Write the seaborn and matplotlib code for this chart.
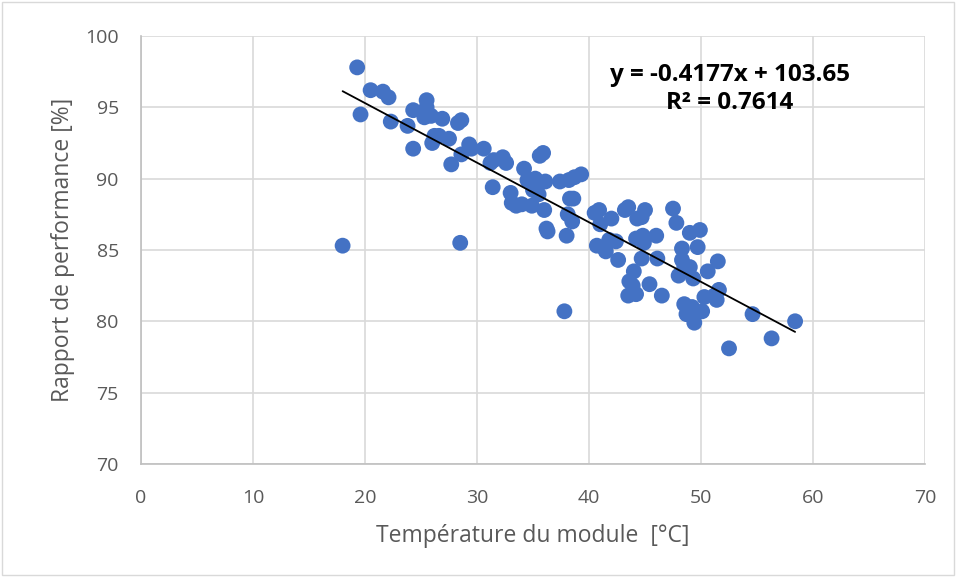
import matplotlib
matplotlib.use("Agg")
import matplotlib.pyplot as plt
import numpy as np
import pandas as pd
import seaborn as sns

# module temperature [°C] and performance ratio [%]
temperature = [
    19.3, 18.0, 19.6, 20.5, 21.6, 22.1, 22.3, 23.8, 24.3, 24.3,
    25.5, 25.5, 25.3, 25.9, 26.2, 26.0, 26.6, 26.9, 27.5, 27.7,
    28.3, 28.6, 28.6, 28.5, 29.3, 29.5, 30.6, 31.2, 31.4, 31.5,
    32.3, 32.6, 33.0, 33.1, 33.5, 34.0, 34.2, 34.5, 34.9, 35.0,
    35.2, 35.5, 35.6, 35.9, 36.0, 36.1, 36.2, 36.3, 37.4, 37.8,
    38.0, 38.1, 38.2, 38.3, 38.6, 38.5, 38.7, 39.3, 40.5, 40.7,
    40.9, 41.0, 41.4, 41.5, 41.8, 42.0, 42.4, 42.6, 43.2, 43.5,
    43.5, 43.6, 43.9, 44.0, 44.2, 44.2, 44.3, 44.7, 44.8, 44.9,
    44.7, 45.0, 45.4, 46.0, 46.1, 46.5, 47.5, 47.8, 48.0, 48.3,
    48.3, 48.5, 48.5, 48.7, 49.0, 49.0, 49.3, 49.2, 49.4, 49.4,
    49.7, 49.9, 50.1, 50.3, 50.6, 51.2, 51.4, 51.5, 51.6, 52.5,
    54.6, 56.3, 58.4,
]
performance = [
    97.8, 85.3, 94.5, 96.2, 96.1, 95.7, 94.0, 93.7, 94.8, 92.1,
    95.5, 95.0, 94.3, 94.4, 93.0, 92.5, 93.0, 94.2, 92.8, 91.0,
    93.9, 94.1, 91.7, 85.5, 92.4, 92.1, 92.1, 91.1, 89.4, 91.3,
    91.5, 91.1, 89.0, 88.3, 88.1, 88.2, 90.7, 89.9, 88.1, 89.2,
    90.0, 88.9, 91.6, 91.8, 87.8, 89.8, 86.5, 86.3, 89.8, 80.7,
    86.0, 87.5, 89.9, 88.6, 88.6, 87.0, 90.1, 90.3, 87.6, 85.3,
    87.8, 86.8, 85.1, 84.9, 85.7, 87.2, 85.6, 84.3, 87.8, 88.0,
    81.8, 82.8, 82.5, 83.5, 81.9, 85.8, 87.2, 84.4, 86.0, 85.5,
    87.3, 87.8, 82.6, 86.0, 84.4, 81.8, 87.9, 86.9, 83.2, 85.1,
    84.3, 81.2, 83.8, 80.5, 86.2, 83.8, 83.0, 81.0, 80.6, 79.9,
    85.2, 86.4, 80.7, 81.7, 83.5, 81.8, 81.5, 84.2, 82.2, 78.1,
    80.5, 78.8, 80.0,
]

# linear trendline shown on the chart
slope = -0.4177
intercept = 103.65
r_squared = 0.7614

df = pd.DataFrame({"temp": temperature, "pr": performance})
trend = pd.DataFrame({"temp": [min(temperature), max(temperature)]})
trend["pr"] = slope * trend["temp"] + intercept

sns.set_style("white")
plt.rcParams["font.family"] = ["Open Sans", "DejaVu Sans"]

fig = plt.figure(figsize=(9.56, 5.77), dpi=100)
ax = fig.add_axes([0.1475, 0.196, 0.8201, 0.7416])

sns.scatterplot(data=df, x="temp", y="pr", s=130, color="#4472c4",
                edgecolor="none", ax=ax, zorder=3)
sns.lineplot(data=trend, x="temp", y="pr", color="black", linewidth=1.3,
             ax=ax, zorder=4)

ax.set_xlim(0, 70)
ax.set_ylim(70, 100)
ax.set_xticks(range(0, 71, 10))
ax.set_yticks(range(70, 101, 5))
ax.grid(True, color="#d9d9d9", linewidth=1.2)
ax.set_axisbelow(True)
for side in ["top", "right"]:
    ax.spines[side].set_visible(False)
for side in ["left", "bottom"]:
    ax.spines[side].set_color("#bfbfbf")
    ax.spines[side].set_linewidth(1.2)
ax.tick_params(length=0, labelsize=14, colors="#595959")
ax.tick_params(axis="x", pad=18)
ax.tick_params(axis="y", pad=16)
ax.set_xlabel("Température du module  [°C]", fontsize=16.5,
              color="#595959", labelpad=12)
ax.set_ylabel("Rapport de performance [%]", fontsize=16.5,
              color="#595959", labelpad=7)

ax.text(730 / 956, 1 - 89 / 577,
        f"y = {slope}x + {intercept}\nR² = {r_squared}",
        transform=fig.transFigure, ha="center", va="center",
        fontsize=17.5, fontweight="bold", color="black", linespacing=1.25)

# light border around the whole chart area
fig.patches.append(plt.Rectangle((0.002, 0.003), 0.996, 0.994,
                                 transform=fig.transFigure, fill=False,
                                 edgecolor="#d9d9d9", linewidth=1))

fig.savefig("out.png", dpi=100)
